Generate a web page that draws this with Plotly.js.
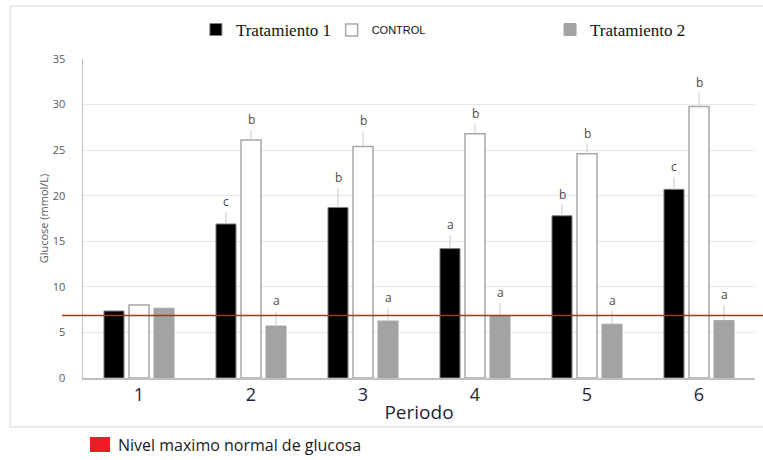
<!DOCTYPE html>
<html>
<head>
<meta charset="utf-8">
<script src="https://cdn.plot.ly/plotly-3.0.1.min.js"></script>
<style>html,body{margin:0;padding:0;background:#fff;}#chart{width:763px;height:460px;}</style>
</head>
<body>
<div id="chart"></div>
<script>
const periods = ["1", "2", "3", "4", "5", "6"];
const trat1 = [7.35, 16.9, 18.7, 14.2, 17.8, 20.7];
const control = [8.0, 26.1, 25.4, 26.8, 24.6, 29.8];
const trat2 = [7.65, 5.7, 6.25, 6.8, 5.9, 6.3];
const errTrat1 = [0, 1.3, 2.1, 1.5, 1.2, 1.3];
const errControl = [0, 1.1, 1.65, 1.1, 1.1, 1.5];
const errTrat2 = [0, 1.6, 1.4, 1.4, 1.5, 1.7];
const letTrat1 = ["", "c", "b", "a", "b", "c"];
const letControl = ["", "b", "b", "b", "b", "b"];
const letTrat2 = ["", "a", "a", "a", "a", "a"];
const normalMax = 6.85;
const lineLabel = "Nivel maximo normal de glucosa";

function errBar(arr) {
  return {type: 'data', array: arr, arrayminus: arr.map(() => 0), symmetric: false,
          visible: true, color: '#c9c9c9', thickness: 1, width: 0};
}

const traces = [
  {type: 'bar', name: 'Tratamiento 1', x: periods, y: trat1, legend: 'legend', showlegend: true,
   marker: {color: '#000000', line: {color: '#7f7f7f', width: 1}}, error_y: errBar(errTrat1)},
  {type: 'bar', name: 'CONTROL', x: periods, y: control, legend: 'legend2', showlegend: true,
   marker: {color: '#ffffff', line: {color: '#a6a6a6', width: 1.5}}, error_y: errBar(errControl)},
  {type: 'bar', name: 'Tratamiento 2', x: periods, y: trat2, legend: 'legend3', showlegend: true,
   marker: {color: '#a3a3a3', line: {color: '#a3a3a3', width: 1}}, error_y: errBar(errTrat2)}
];

const annotations = [];
const groups = [[trat1, errTrat1, letTrat1, -25], [control, errControl, letControl, 0], [trat2, errTrat2, letTrat2, 25]];
groups.forEach(([vals, errs, lets, shift]) => {
  periods.forEach((p, i) => {
    if (!lets[i]) return;
    annotations.push({x: i, y: vals[i] + errs[i], xref: 'x', yref: 'y', text: lets[i],
      showarrow: false, xshift: shift, yanchor: 'bottom', yshift: 0,
      font: {family: 'Open Sans, sans-serif', size: 12, color: '#4a4a4a'}});
  });
});
annotations.push({x: 0.049, y: -0.21, xref: 'paper', yref: 'paper', xanchor: 'left', yanchor: 'middle',
  text: lineLabel, showarrow: false, font: {family: 'Open Sans, sans-serif', size: 16, color: '#1a1a1a'}});

const legendBase = {y: 1.091, xanchor: 'left', yanchor: 'middle', orientation: 'h', bgcolor: 'rgba(0,0,0,0)', itemwidth: 30};

const layout = {
  width: 763, height: 460,
  margin: {l: 83, r: 8, t: 59, b: 82},
  paper_bgcolor: '#ffffff', plot_bgcolor: '#ffffff',
  showlegend: true,
  barmode: 'group', bargap: 0.33, bargroupgap: 0.2,
  xaxis: {type: 'category', range: [-0.5, 5.5], showgrid: false, showline: true, linecolor: '#bfbfbf', linewidth: 1.5,
    ticks: '', tickfont: {family: 'Open Sans, sans-serif', size: 18, color: '#1f1f3a'},
    title: {text: 'Periodo', font: {family: 'Open Sans, sans-serif', size: 19, color: '#1f1f3a'}, standoff: 0},
    automargin: false},
  yaxis: {range: [0, 35], dtick: 5, showgrid: true, gridcolor: '#e8e8e8', gridwidth: 1,
    showline: true, linecolor: '#bfbfbf', linewidth: 1.5, zeroline: false, ticks: '',
    ticklabelstandoff: 14,
    tickfont: {family: 'Open Sans, sans-serif', size: 11, color: '#595959'},
    title: {text: 'Glucose (mmol/L)', font: {family: 'Open Sans, sans-serif', size: 11, color: '#595959'}},
    automargin: false},
  legend: Object.assign({}, legendBase, {x: 0.168, font: {family: 'Liberation Serif, serif', size: 17, color: '#111111'}}),
  legend2: Object.assign({}, legendBase, {x: 0.37, font: {family: 'Liberation Sans, sans-serif', size: 11, color: '#111111'}}),
  legend3: Object.assign({}, legendBase, {x: 0.695, font: {family: 'Liberation Serif, serif', size: 17, color: '#111111'}}),
  shapes: [
    {type: 'rect', xref: 'paper', yref: 'paper', x0: -0.1086, x1: 1.02, y0: -0.1536, y1: 1.166,
     line: {color: '#d9d9d9', width: 1}, fillcolor: 'rgba(0,0,0,0)', layer: 'below'},
    {type: 'line', xref: 'paper', yref: 'y', x0: -0.03125, x1: 1.012, y0: normalMax, y1: normalMax,
     line: {color: '#e8141c', width: 1.5}},
    {type: 'rect', xref: 'paper', yref: 'paper', x0: 0.0104, x1: 0.0402, y0: -0.232, y1: -0.185,
     line: {width: 0}, fillcolor: '#ee1c25'}
  ],
  annotations: annotations
};

Plotly.newPlot('chart', traces, layout, {displayModeBar: false, staticPlot: true});
</script>
</body>
</html>
